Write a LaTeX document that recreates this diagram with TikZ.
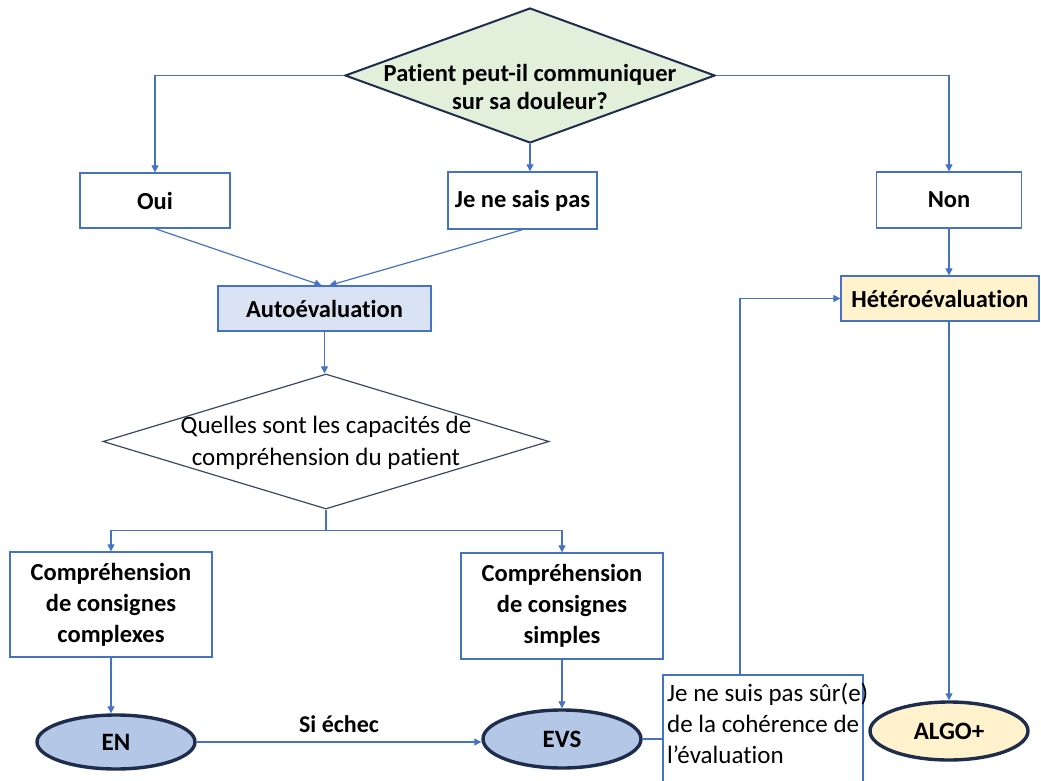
\documentclass[tikz,border=0pt]{standalone}
\usepackage{fontspec}
\setmainfont{Carlito}[Ligatures=NoCommon]
\usetikzlibrary{arrows.meta,shapes.geometric,calc}
\definecolor{lblue}{HTML}{4472C4}
\definecolor{navy}{HTML}{1F2D4D}
\definecolor{slate}{HTML}{3B4863}
\definecolor{dgreen}{HTML}{E2EFDA}
\definecolor{dblue}{HTML}{DAE3F3}
\definecolor{ovblue}{HTML}{B4C7E7}
\definecolor{lyellow}{HTML}{FFF2CC}

\begin{document}
\begin{tikzpicture}[x=1pt,y=-1pt,
  box/.style={rectangle,draw=lblue,line width=1.3pt,fill=white,inner sep=0pt,
    align=center,font=\fontsize{24.5}{31}\selectfont\bfseries},
  oval/.style={ellipse,draw=navy,line width=3.4pt,fill=ovblue,inner sep=0pt,
    minimum width=158pt,font=\fontsize{25}{28}\selectfont\bfseries},
  line/.style={draw=lblue,line width=1.2pt},
  >={Triangle[length=7pt,width=7pt]}]
\clip (0,0) rectangle (1041,781);
\fill[white] (0,0) rectangle (1041,781);
% questions
\node[diamond,draw=navy,line width=2pt,fill=dgreen,inner sep=0pt,
  minimum width=370pt,minimum height=135pt] (A) at (530,75.5) {};
\node[align=center,font=\fontsize{24.5}{28}\selectfont\bfseries] at (530,87) {Patient peut-il communiquer\\sur sa douleur?};
\node[box,minimum width=150pt,minimum height=55pt] (B) at (155,200.5) {Oui};
\node[box,minimum width=149pt,minimum height=57pt] (C) at (522.5,200.5) {Je ne sais pas};
\node[box,minimum width=145pt,minimum height=56pt] (D) at (949,200) {Non};
\node[box,fill=dblue,minimum width=213pt,minimum height=45pt] (E) at (324.5,308.5) {Autoévaluation};
\node[box,fill=lyellow,minimum width=198pt,minimum height=45pt] (F) at (940,298.5) {Hétéroévaluation};
\node[diamond,draw=slate,line width=1.2pt,fill=white,inner sep=0pt,
  minimum width=446pt,minimum height=135pt] (M) at (326,441.5) {};
\node[align=center,font=\fontsize{25}{32}\selectfont] at (326,443) {Quelles sont les capacités de\\compréhension du patient};
\node[box,minimum width=202pt,minimum height=105pt] (G) at (111,604.5) {Compréhension\\de consignes\\complexes};
\node[box,minimum width=202pt,minimum height=106pt] (H) at (562,606) {Compréhension\\de consignes\\simples};
% scales
\node[oval,minimum height=54pt] (I) at (116,742) {EN};
\node[oval,minimum height=58pt] (J) at (562,739) {EVS};
\node[oval,fill=lyellow,minimum height=58pt] (K) at (949,731) {ALGO+};
\node[rectangle,draw=lblue,line width=1.3pt,fill=white,minimum width=200pt,minimum height=130pt,inner sep=0pt] (L) at (763,740) {};
\node[anchor=north west,align=left,inner sep=0pt,font=\fontsize{25}{31}\selectfont] at (667,683) {Je ne suis pas sûr(e)\\de la cohérence de\\l’évaluation};
% connectors
\draw[line,->] (A.west) -| (B.north);
\draw[line,->] (A.east) -| (D.north);
\draw[line,->] (A.south) -- (A.south |- C.north);
\draw[line,->] (B.south) -- ([xshift=-3pt]E.north);
\draw[line,->] (C.south) -- ([xshift=5pt]E.north);
\draw[line,->] (E.south) -- (E.south |- M.north);
\draw[line] (M.south) -- ++(0,21) coordinate (j);
\draw[line,->] (j) -| (G.north);
\draw[line,->] (j) -| (H.north);
\draw[line,->] (G.south) -- (G.south |- I.north);
\draw[line,->] (H.south) -- (J.north);
\draw[line,->] (I.east) -- node[above=5pt,font=\fontsize{24}{26}\selectfont\bfseries,text=black] {Si échec} (I.east -| J.west);
\draw[line] (J.east) -- (J.east -| L.west);
\draw[line,->] ([xshift=-23pt]L.north) |- (F.west);
\draw[line,->] (D.south) -- (D.south |- F.north);
\draw[line,->] (F.south -| K.north) -- (K.north);
\end{tikzpicture}
\end{document}
